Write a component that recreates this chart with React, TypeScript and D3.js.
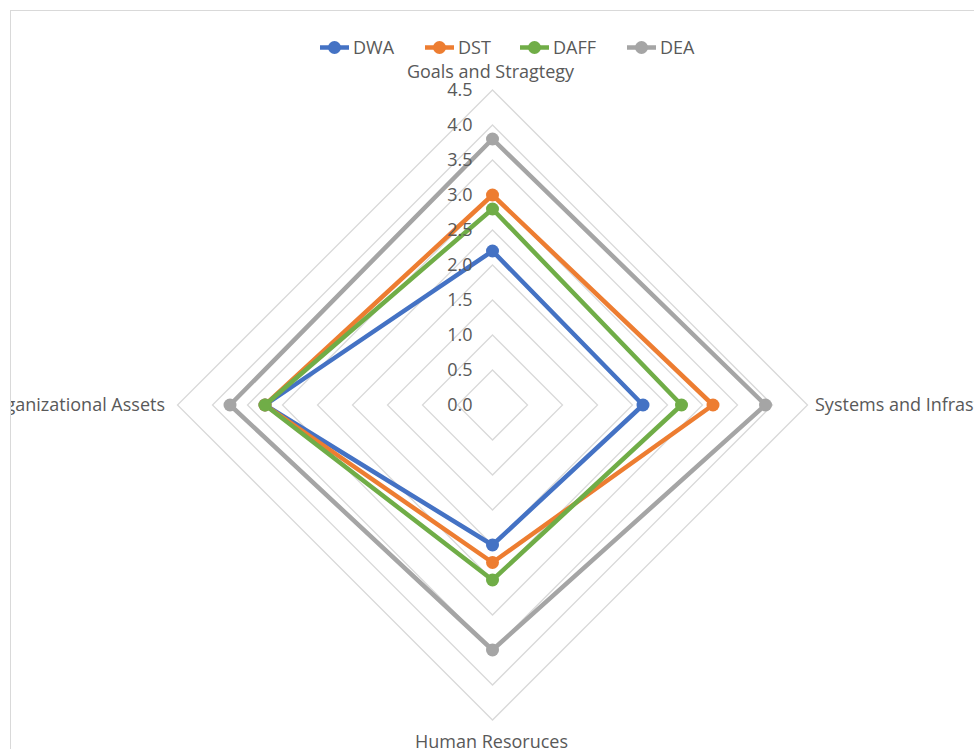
import React from "react";
import * as d3 from "d3";

const categories = ["Goals and Stragtegy", "Systems and Infrastructure", "Human Resoruces", "Organizational Assets"];
const seriesNames = ["DWA", "DST", "DAFF", "DEA"];
const DWA = [2.2, 2.15, 2.0, 3.25];
const DST = [3.0, 3.15, 2.25, 3.25];
const DAFF = [2.8, 2.7, 2.5, 3.25];
const DEA = [3.8, 3.9, 3.5, 3.75];
const ticks = [0, 0.5, 1.0, 1.5, 2.0, 2.5, 3.0, 3.5, 4.0, 4.5];
const colors = ["#4472C4", "#ED7D31", "#70AD47", "#A5A5A5"];

const W = 974, H = 749;
const cx = 492.5, cy = 405;
const R = 315;
const FONT = "'Open Sans', 'Noto Sans', sans-serif";
const FS = 18;

export default function App() {
  const r = d3.scaleLinear().domain([0, 4.5]).range([0, R]);
  const angle = (i: number) => (i * 2 * Math.PI) / categories.length;
  const pt = (i: number, v: number): [number, number] => [
    cx + r(v) * Math.sin(angle(i)),
    cy - r(v) * Math.cos(angle(i)),
  ];
  const data = [DWA, DST, DAFF, DEA];
  const line = d3.line<[number, number]>().curve(d3.curveLinearClosed);

  const legendX = [320, 425, 520, 627];
  const legendTextX = [353, 458, 553, 660];

  return (
    <svg width={W} height={H} style={{ position: "absolute", left: 0, top: 0 }}>
      <defs>
        <clipPath id="area">
          <rect x={11} y={11} width={W - 11} height={H - 11} />
        </clipPath>
      </defs>
      <rect x={0} y={0} width={W} height={H} fill="#fff" />
      <rect x={10.5} y={10.5} width={W + 10} height={H + 10} fill="#fff" stroke="#d9d9d9" strokeWidth={1} />
      <g clipPath="url(#area)">
        {ticks.slice(1).map((t) => (
          <path
            key={t}
            d={line(categories.map((_, i) => pt(i, t))) || ""}
            fill="none"
            stroke="#d9d9d9"
            strokeWidth={1.3}
          />
        ))}
        {data.map((vals, s) => (
          <g key={seriesNames[s]}>
            <path
              d={line(vals.map((v, i) => pt(i, v))) || ""}
              fill="none"
              stroke={colors[s]}
              strokeWidth={4.5}
              strokeLinejoin="round"
            />
            {vals.map((v, i) => {
              const [x, y] = pt(i, v);
              return <circle key={i} cx={x} cy={y} r={6.5} fill={colors[s]} />;
            })}
          </g>
        ))}
        {ticks.map((t) => (
          <text
            key={t}
            x={cx - 20}
            y={cy - r(t)}
            dy="0.35em"
            textAnchor="end"
            fontFamily={FONT}
            fontSize={FS}
            fill="#595959"
          >
            {t.toFixed(1)}
          </text>
        ))}
        <text x={cx - 2} y={78} textAnchor="middle" fontFamily={FONT} fontSize={FS} fill="#595959">
          {categories[0]}
        </text>
        <text x={815} y={cy} dy="0.35em" textAnchor="start" fontFamily={FONT} fontSize={FS} fill="#595959">
          {categories[1]}
        </text>
        <text x={cx - 1} y={748} textAnchor="middle" fontFamily={FONT} fontSize={FS} fill="#595959">
          {categories[2]}
        </text>
        <text x={165} y={cy} dy="0.35em" textAnchor="end" fontFamily={FONT} fontSize={FS} fill="#595959">
          {categories[3]}
        </text>
        {seriesNames.map((n, s) => (
          <g key={n}>
            <line x1={legendX[s]} x2={legendX[s] + 29} y1={47.5} y2={47.5} stroke={colors[s]} strokeWidth={4.5} />
            <circle cx={legendX[s] + 14.5} cy={47.5} r={6.5} fill={colors[s]} />
            <text x={legendTextX[s]} y={47.5} dy="0.35em" fontFamily={FONT} fontSize={FS} fill="#595959">
              {n}
            </text>
          </g>
        ))}
      </g>
    </svg>
  );
}
